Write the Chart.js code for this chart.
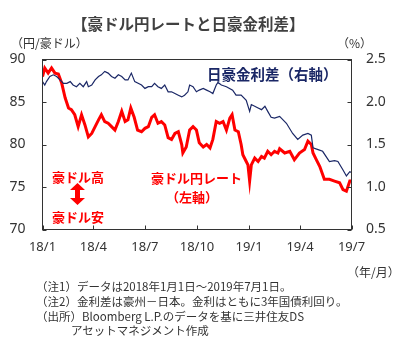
<!DOCTYPE html>
<html>
<head>
<meta charset="utf-8">
<script src="https://cdn.jsdelivr.net/npm/chart.js@4"></script>
<style>
  html, body { margin: 0; padding: 0; background: #fff; }
  #wrap { position: relative; width: 403px; height: 338px; overflow: hidden; }
  #c { position: absolute; left: 0; top: 0; }
  .t { position: absolute; white-space: nowrap; font-family: "Noto Sans CJK JP", "Noto Sans", sans-serif; }
</style>
</head>
<body>
<div id="wrap">
  <canvas id="c" width="403" height="338"></canvas>
  <div class="t" style="left:72px; top:12px; font-size:15.5px; line-height:22px; font-weight:bold; color:#404040;">【豪ドル円レートと日豪金利差】</div>
  <div class="t" style="left:11px; top:35px; font-size:12px; line-height:16px; color:#333;">（円/豪ドル）</div>
  <div class="t" style="left:337px; top:35px; font-size:12px; line-height:16px; color:#333;">（%）</div>
  <div class="t" style="left:207px; top:64px; font-size:14.5px; line-height:20px; font-weight:bold; color:#1a2766;">日豪金利差（右軸）</div>
  <div class="t" style="left:151px; top:169px; font-size:13px; line-height:18px; font-weight:bold; color:#ff0000;">豪ドル円レート</div>
  <div class="t" style="left:166px; top:188px; font-size:13px; line-height:18px; font-weight:bold; color:#ff0000;">（左軸）</div>
  <div class="t" style="left:52px; top:168px; font-size:13px; line-height:18px; font-weight:bold; color:#ff0000;">豪ドル高</div>
  <div class="t" style="left:52px; top:208px; font-size:13px; line-height:18px; font-weight:bold; color:#ff0000;">豪ドル安</div>
  <div class="t" style="left:347px; top:264px; font-size:12px; line-height:16px; color:#333;">（年/月）</div>
  <div class="t" style="left:36px; top:279px; font-size:11.5px; line-height:15px; color:#333;">（注1）データは2018年1月1日～2019年7月1日。</div>
  <div class="t" style="left:36px; top:294px; font-size:11.5px; line-height:15px; color:#333;">（注2）金利差は豪州－日本。金利はともに3年国債利回り。</div>
  <div class="t" style="left:36px; top:309px; font-size:11.5px; line-height:15px; color:#333;">（出所）Bloomberg L.P.のデータを基に三井住友DS</div>
  <div class="t" style="left:71px; top:323px; font-size:11.5px; line-height:15px; color:#333;">アセットマネジメント作成</div>
</div>
<script>
// ---- data (days since 2018-01-01) ----
const audDays = [0,4,10,16,22,28,34,40,46,51,57,63,69,75,81,87,93,99,104,110,116,122,128,134,140,146,151,156,162,168,175,181,187,193,198,204,210,216,222,228,234,240,246,248,254,260,266,272,277,284,290,296,301,307,313,319,325,331,335,340,346,351,354,360,363,366,369,375,381,387,392,398,404,410,416,419,428,437,445,454,463,469,475,478,484,490,498,507,516,525,531,537,543,546];
const audValues = [88.0,89.0,88.4,89.0,88.4,88.3,87.2,85.5,84.3,84.1,83.5,82.1,83.5,82.3,80.9,81.3,82.1,82.9,83.5,82.7,82.5,82.1,81.7,82.7,83.9,82.7,82.9,84.3,83.2,81.7,81.5,81.9,82.1,83.2,83.5,82.5,82.7,82.3,80.8,80.6,81.3,81.5,80.0,79.0,79.7,81.7,82.1,81.7,80.2,79.7,80.0,79.6,80.6,82.7,82.5,82.7,81.7,83.1,83.5,81.7,81.5,80.0,78.8,78.0,77.6,75.7,77.6,78.4,78.0,78.6,78.4,79.2,78.8,79.2,79.0,79.5,79.0,79.2,78.2,79.0,79.4,80.4,80.0,79.0,78.2,77.4,75.9,75.9,75.7,75.5,74.7,74.5,75.7,75.7];

const spreadDays = [0,4,7,13,19,25,31,37,43,49,54,60,66,72,78,81,87,93,99,104,110,116,122,128,134,140,146,151,157,163,169,175,181,187,193,198,204,210,216,222,228,234,240,246,251,257,260,266,272,277,284,290,296,301,307,310,316,325,336,342,351,360,366,369,375,381,387,393,398,404,410,419,431,442,451,460,469,475,478,487,495,507,516,522,531,537,543,546];
const spreadValues = [2.24,2.20,2.24,2.30,2.32,2.30,2.26,2.22,2.22,2.24,2.20,2.18,2.22,2.18,2.24,2.18,2.20,2.26,2.30,2.32,2.36,2.34,2.30,2.28,2.32,2.30,2.26,2.26,2.34,2.24,2.22,2.20,2.16,2.18,2.18,2.22,2.18,2.16,2.20,2.12,2.12,2.10,2.08,2.06,2.08,2.12,2.20,2.18,2.12,2.14,2.16,2.14,2.12,2.10,2.20,2.23,2.20,2.18,2.14,2.08,2.08,2.02,1.89,1.97,1.95,1.93,1.91,1.95,1.89,1.82,1.81,1.83,1.75,1.63,1.56,1.61,1.63,1.61,1.46,1.44,1.42,1.30,1.31,1.30,1.20,1.13,1.18,1.17];

const xTickDays = [0,90,181,273,365,455,546];
const xTickLabels = ['18/1','18/4','18/7','18/10','19/1','19/4','19/7'];
const leftTicks = [70,75,80,85,90];
const rightTicks = [0.5,1.0,1.5,2.0,2.5];

const toXY = (xs, ys) => xs.map((d, i) => ({x: d, y: ys[i]}));

const frame = {
  id: 'frame',
  afterDraw(chart) {
    const {ctx, chartArea: a, scales} = chart;
    ctx.save();
    ctx.strokeStyle = '#333';
    ctx.lineWidth = 1;
    ctx.strokeRect(a.left, a.top, a.right - a.left, a.bottom - a.top);
    ctx.beginPath();
    const L = 4;
    scales.yL.ticks.forEach(t => { const y = Math.round(scales.yL.getPixelForValue(t.value)) + 0.5; ctx.moveTo(a.left, y); ctx.lineTo(a.left + L, y); });
    scales.yR.ticks.forEach(t => { const y = Math.round(scales.yR.getPixelForValue(t.value)) + 0.5; ctx.moveTo(a.right, y); ctx.lineTo(a.right - L, y); });
    scales.x.ticks.forEach(t => { const x = Math.round(scales.x.getPixelForValue(t.value)) + 0.5; ctx.moveTo(x, a.bottom); ctx.lineTo(x, a.bottom - L); });
    ctx.stroke();
    // double-headed arrow (豪ドル高 ⇔ 豪ドル安)
    const cx = 77.5, y1 = 183, y2 = 205, hw = 7.5, hh = 7, sw = 2.5;
    ctx.fillStyle = '#ff0000';
    ctx.beginPath();
    ctx.moveTo(cx, y1);
    ctx.lineTo(cx + hw, y1 + hh);
    ctx.lineTo(cx + sw, y1 + hh);
    ctx.lineTo(cx + sw, y2 - hh);
    ctx.lineTo(cx + hw, y2 - hh);
    ctx.lineTo(cx, y2);
    ctx.lineTo(cx - hw, y2 - hh);
    ctx.lineTo(cx - sw, y2 - hh);
    ctx.lineTo(cx - sw, y1 + hh);
    ctx.lineTo(cx - hw, y1 + hh);
    ctx.closePath();
    ctx.fill();
    ctx.restore();
  }
};

const tickFont = {family: '"Noto Sans", "DejaVu Sans", sans-serif', size: 14};

new Chart(document.getElementById('c'), {
  type: 'line',
  data: {
    datasets: [
      {label: '日豪金利差（右軸）', data: toXY(spreadDays, spreadValues), yAxisID: 'yR', borderColor: '#1a2766', borderWidth: 1.2, pointRadius: 0, tension: 0},
      {label: '豪ドル円レート（左軸）', data: toXY(audDays, audValues), yAxisID: 'yL', borderColor: '#ff0000', borderWidth: 3, pointRadius: 0, tension: 0}
    ]
  },
  options: {
    responsive: false,
    devicePixelRatio: 1,
    animation: false,
    parsing: true,
    layout: {padding: {top: 59.5, left: 0, right: 0, bottom: 0}},
    plugins: {legend: {display: false}, tooltip: {enabled: false}},
    scales: {
      x: {
        type: 'linear', min: 0, max: 546,
        grid: {display: false, drawTicks: false}, border: {display: false},
        afterBuildTicks: s => { s.ticks = xTickDays.map(v => ({value: v})); },
        afterFit: s => { s.height = 108.5; },
        ticks: {autoSkip: false, maxRotation: 0, padding: 10, color: '#333', font: {family: tickFont.family, size: 13},
          callback: (v, i) => xTickLabels[i]}
      },
      yL: {
        type: 'linear', position: 'left', min: 70, max: 90,
        grid: {display: false, drawTicks: false}, border: {display: false},
        afterBuildTicks: s => { s.ticks = leftTicks.map(v => ({value: v})); },
        afterFit: s => { s.width = 42.5; },
        ticks: {padding: 17, color: '#333', font: tickFont, callback: v => String(v)}
      },
      yR: {
        type: 'linear', position: 'right', min: 0.5, max: 2.5,
        grid: {display: false, drawTicks: false}, border: {display: false},
        afterBuildTicks: s => { s.ticks = rightTicks.map(v => ({value: v})); },
        afterFit: s => { s.width = 51.5; },
        ticks: {padding: 14.5, color: '#333', font: tickFont, callback: v => Number(v).toFixed(1)}
      }
    }
  },
  plugins: [frame]
});
</script>
</body>
</html>
